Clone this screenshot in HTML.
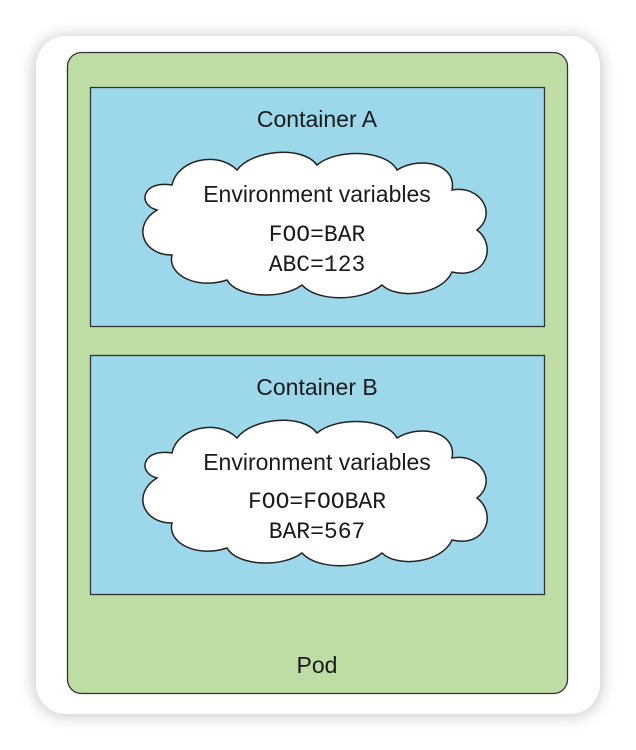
<!DOCTYPE html>
<html><head><meta charset="utf-8"><style>
html,body{margin:0;padding:0;background:#fff;width:636px;height:750px;overflow:hidden}
</style></head><body>
<svg width="636" height="750" xmlns="http://www.w3.org/2000/svg">
<defs>
<filter id="sh" x="-20%" y="-20%" width="140%" height="140%"><feGaussianBlur stdDeviation="8"/></filter>
<path id="cloud" d="M 20 60 C 0 55, 5 30, 35 35 C 40 10, 80 0, 100 20 C 115 0, 165 -5, 180 15 C 200 -2, 250 0, 260 20 C 285 5, 320 15, 315 40 C 345 35, 360 65, 340 80 C 360 95, 350 130, 315 122 C 305 145, 260 150, 245 135 C 225 152, 180 152, 165 135 C 145 150, 100 148, 90 130 C 60 140, 30 125, 35 105 C 5 105, -5 75, 20 60 Z" fill="#fff" stroke="#222" stroke-width="1.5"/>
</defs>
<rect x="34" y="36" width="568" height="680" rx="32" fill="#000" opacity="0.22" filter="url(#sh)"/>
<rect x="36" y="36" width="564" height="678" rx="30" fill="#fff"/>
<rect x="67.5" y="52.5" width="500" height="641" rx="14" fill="#bedda4" stroke="#333" stroke-width="1.3"/>
<rect x="90.5" y="87.5" width="454" height="239" fill="#9dd8ea" stroke="#333" stroke-width="1.3"/>
<rect x="90.5" y="355.5" width="454" height="239" fill="#9dd8ea" stroke="#333" stroke-width="1.3"/>
<use href="#cloud" x="137" y="150"/>
<use href="#cloud" x="137" y="418"/>
<g font-family="Liberation Sans, sans-serif" font-size="23" fill="#1a1a1a" text-anchor="middle">
<text x="317" y="127">Container A</text>
<text x="317" y="395">Container B</text>
<text x="317" y="202">Environment variables</text>
<text x="317" y="470">Environment variables</text>
<text x="317" y="673">Pod</text>
</g>
<g font-family="Liberation Mono, monospace" font-size="23" fill="#1a1a1a" text-anchor="middle">
<text x="317" y="241">FOO=BAR</text>
<text x="317" y="271">ABC=123</text>
<text x="317" y="508">FOO=FOOBAR</text>
<text x="317" y="538">BAR=567</text>
</g>
</svg>
</body></html>
